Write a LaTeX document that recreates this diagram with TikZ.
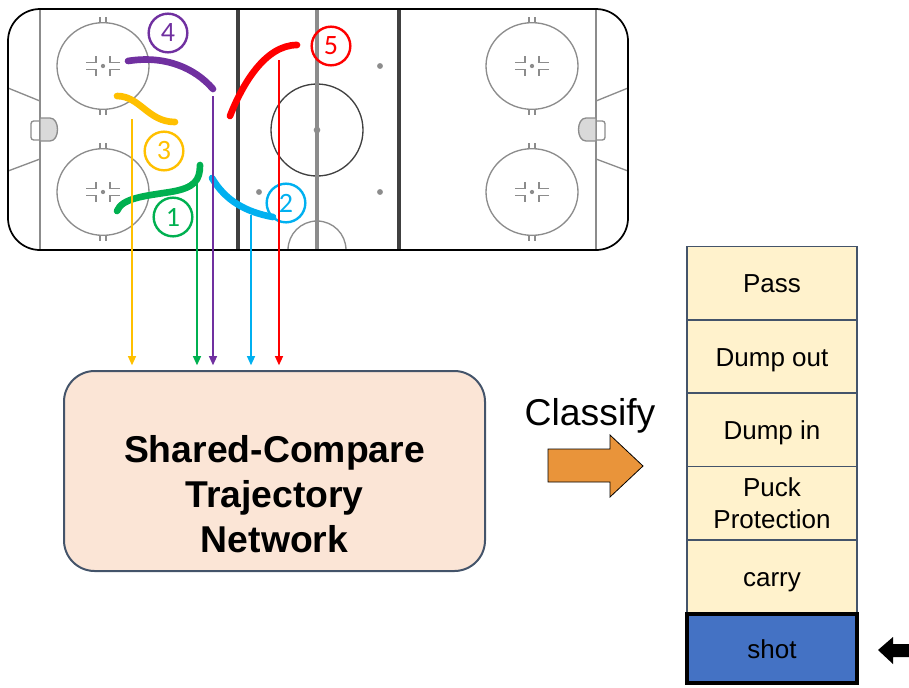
\documentclass[tikz,border=0pt]{standalone}
\usepackage{fontspec}
\setmainfont{Liberation Sans}
\newfontfamily\digitfont{Carlito}
\usetikzlibrary{arrows.meta}

\definecolor{rinkgray}{HTML}{8C8C8C}
\definecolor{linedark}{HTML}{404040}
\definecolor{creasegray}{HTML}{D9D9D9}
\definecolor{cyellow}{HTML}{FFC000}
\definecolor{cgreen}{HTML}{00B050}
\definecolor{cpurple}{HTML}{7030A0}
\definecolor{cblue}{HTML}{00B0F0}
\definecolor{cred}{HTML}{FF0000}
\definecolor{netfill}{HTML}{FBE5D6}
\definecolor{netborder}{HTML}{44546A}
\definecolor{classfill}{HTML}{FFF2CC}
\definecolor{shotfill}{HTML}{4472C4}
\definecolor{arroworange}{HTML}{E9943A}

\tikzset{
  rinkline/.style={rinkgray, line width=1pt},
  stroke/.style={line width=5pt, line cap=round, line join=round},
  feed/.style={line width=1.2pt, -{Triangle[width=6pt,length=7pt]}, shorten >=3.5pt},
  numlabel/.style={circle, line width=1.8pt, minimum size=29pt, inner sep=0pt,
    font=\digitfont\fontsize{21}{21}\selectfont},
  classbox/.style={draw=netborder, fill=classfill, line width=1pt,
    minimum width=127.5pt, minimum height=55pt, inner sep=0pt, outer sep=0pt,
    align=center, font=\fontsize{19.5}{24}\selectfont},
  oneline/.style={text height=15.6pt, text depth=1pt},
}

\begin{document}
\begin{tikzpicture}[x=0.75pt,y=-0.75pt]
\useasboundingbox (0,0) rectangle (909,687);

% ---------- rink ----------
% goal lines and trapezoid lines
\draw[rinkline] (40,9) -- (40,250);
\draw[rinkline] (596,9) -- (596,250);
\draw[rinkline] (8,88) -- (40,101);
\draw[rinkline] (40,159) -- (8,171);
\draw[rinkline] (628,88) -- (596,101);
\draw[rinkline] (596,159) -- (628,171);
% nets and creases
\draw[rinkline, rounded corners=2pt] (40,121) -- (31,121) -- (31,140) -- (40,140);
\draw[rinkline, fill=creasegray] (40,118) -- (50,118) .. controls (60,118) and (60,141) .. (50,141) -- (40,141) -- cycle;
\draw[rinkline, rounded corners=2pt] (596,121) -- (605,121) -- (605,140) -- (596,140);
\draw[rinkline, fill=creasegray] (596,118) -- (586,118) .. controls (576,118) and (576,141) .. (586,141) -- (596,141) -- cycle;

% faceoff circles with spots, L-shaped marks and hash marks
\foreach \cx/\cy in {103/66, 103/192, 532/66, 532/192}{
  \draw[rinkline] (\cx,\cy) ellipse [x radius=34.5pt, y radius=32.5pt];
  \fill[rinkgray] (\cx,\cy) circle [radius=1.6pt];
  \draw[rinkline] (\cx-17,\cy-3.5) -- (\cx-7,\cy-3.5) -- (\cx-7,\cy-10)
                  (\cx-17,\cy+3.5) -- (\cx-7,\cy+3.5) -- (\cx-7,\cy+10);
  \draw[rinkline] (\cx+17,\cy-3.5) -- (\cx+7,\cy-3.5) -- (\cx+7,\cy-10)
                  (\cx+17,\cy+3.5) -- (\cx+7,\cy+3.5) -- (\cx+7,\cy+10);
  \draw[rinkline] (\cx-3,\cy-49) -- (\cx-3,\cy-43) (\cx+3,\cy-49) -- (\cx+3,\cy-43)
                  (\cx-3,\cy+43) -- (\cx-3,\cy+49) (\cx+3,\cy+43) -- (\cx+3,\cy+49);
}

% neutral zone
\draw[rinkgray, line width=1pt] (346,250) arc[start angle=0, end angle=180, radius=21.75pt];
\draw[linedark, line width=1pt] (317,130) circle [radius=34.5pt];
\draw[rinkgray, line width=3pt] (317,9) -- (317,250);
\fill[rinkgray] (317,130) circle [radius=2.5pt];
\foreach \px/\py in {259/192, 380/66, 380/192}
  \fill[rinkgray] (\px,\py) circle [radius=2.2pt];
\draw[linedark, line width=3pt] (238,9) -- (238,250);
\draw[linedark, line width=3pt] (399,9) -- (399,250);

% boards
\draw[black, line width=1.3pt, rounded corners=24pt] (8,9) rectangle (628,250);

% ---------- trajectories ----------
\draw[stroke, cpurple] (128,61) .. controls (165,55) and (195,68) .. (213,89);
\draw[stroke, cyellow] (117,96) .. controls (140,96) and (148,122) .. (175,122);
\draw[stroke, cgreen] (117,211) .. controls (122,198) and (145,196) .. (170,192)
                      .. controls (195,188) and (200,180) .. (200,165);
\draw[stroke, cblue] (212,178) .. controls (225,200) and (245,212) .. (273,217);
\draw[stroke, cred] (230,116) .. controls (242,85) and (265,45) .. (297,45);

\node[numlabel, draw=cgreen, text=cgreen]   (n1) at (173,217) {1};
\node[numlabel, draw=cblue, text=cblue]     (n2) at (286,203) {2};
\node[numlabel, draw=cyellow, text=cyellow] (n3) at (164,151) {3};
\node[numlabel, draw=cpurple, text=cpurple] (n4) at (168,33)  {4};
\node[numlabel, draw=cred, text=cred]       (n5) at (331,46)  {5};

% ---------- network ----------
\node[draw=netborder, fill=netfill, line width=1.5pt, rounded corners=23pt,
      minimum width=315.75pt, minimum height=150pt, inner sep=0pt]
  (net) at (274.5,471) {};
\node[align=center, font=\bfseries\fontsize{28}{34}\selectfont]
  (netname) at (274.5,494) {Shared-Compare\\Trajectory\\Network};

\coordinate (ys) at (132,119);
\coordinate (gs) at (197,176);
\coordinate (ps) at (213,96);
\coordinate (bs) at (251,215);
\coordinate (rs) at (279,60);
\draw[feed, cyellow] (ys) -- (ys |- net.north);
\draw[feed, cgreen]  (gs) -- (gs |- net.north);
\draw[feed, cpurple] (ps) -- (ps |- net.north);
\draw[feed, cblue]   (bs) -- (bs |- net.north);
\draw[feed, cred]    (rs) -- (rs |- net.north);

% ---------- classify ----------
\node[font=\fontsize{28}{34}\selectfont] (cls) at (590,416) {Classify};
\draw[black, line width=0.6pt, fill=arroworange]
  (548,449) -- (610,449) -- (610,435) -- (643,466) -- (610,497) -- (610,482) -- (548,482) -- cycle;

% ---------- classes ----------
\node[classbox, oneline] (pass)  at (772,283)   {Pass};
\node[classbox, oneline] (dout)  at (772,356.5) {Dump out};
\node[classbox, oneline] (din)   at (772,429.5) {Dump in};
\node[classbox] (puck)  at (772,503)   {Puck\\Protection};
\node[classbox, oneline] (carry) at (772,576.5) {carry};
\node[classbox, oneline, draw=black, fill=shotfill, line width=3pt,
      minimum height=52pt] (shot) at (772,648.5) {shot};

% selection pointer
\fill[black] (878,650) -- (893,637) -- (893,644) -- (909,644) -- (909,657) -- (893,657) -- (893,664) -- cycle;
\end{tikzpicture}
\end{document}
